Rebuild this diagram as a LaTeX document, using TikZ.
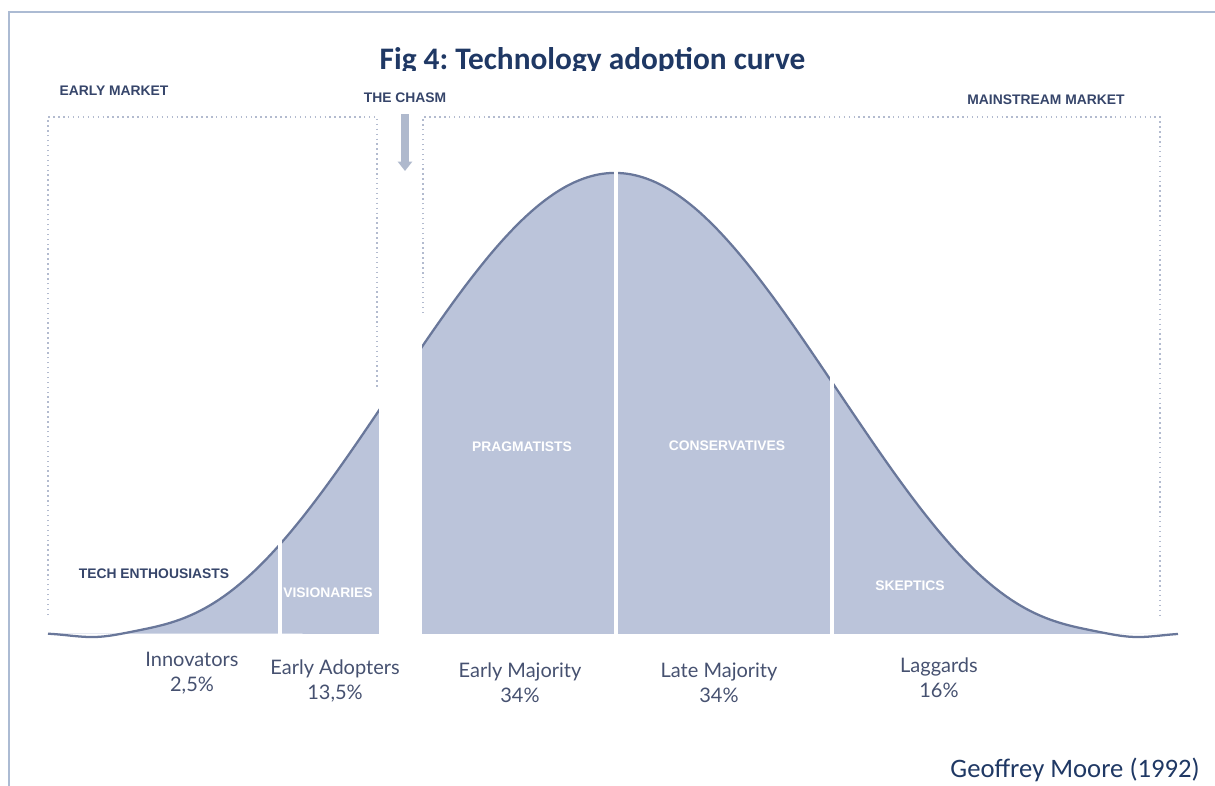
\documentclass[tikz,border=0pt]{standalone}
\usepackage{fontspec}
\usepackage{tikz}
\usetikzlibrary{positioning,calc,arrows.meta}

\newfontfamily\calibfont{Carlito}
\newfontfamily\arialfont{Liberation Sans}
\newfontfamily\latofont{Lato}
\frenchspacing

\definecolor{framecol}{HTML}{ACBBD3}
\definecolor{titlecol}{HTML}{1F3864}
\definecolor{bellfill}{HTML}{BBC4DA}
\definecolor{bellline}{HTML}{69779A}
\definecolor{dotcol}{HTML}{B3BBCF}
\definecolor{capcol}{HTML}{36456A}
\definecolor{groupcol}{HTML}{465170}
\definecolor{arrowcol}{HTML}{AFB9CD}

\tikzset{
  capslabel/.style={font=\arialfont\bfseries\fontsize{10.4}{12}\selectfont, text=capcol, inner sep=0pt},
  innerlabel/.style={capslabel, text=white},
  grouplabel/.style={font=\latofont\fontsize{15}{18.75}\selectfont, text=groupcol, align=center, inner sep=0pt},
  dotbox/.style={draw=dotcol, line width=1.1pt, dash pattern=on 1.1pt off 2.6pt},
  splitline/.style={draw=white, line width=2.4pt},
}

\begin{document}
\begin{tikzpicture}[x=0.75pt,y=-0.75pt,
  declare function={bell(\d)=633-460*exp(max(-9,-(\d/200)^2/2-0.011*(\d/200)^6))+4.5*exp(max(-9,-((abs(\d)-520)/35)^2));}]

\useasboundingbox (0,0) rectangle (1215,786);

\def\bellcurve{plot[domain=-567:563, samples=160, smooth] ({615+\x},{bell(\x)})}

% frame
\draw[framecol, line width=1.9pt] (9,786) -- (9,12) -- (1215,12);

\begin{scope}
  \clip (0,0) rectangle (1215,70.5);
  \node[font=\calibfont\bfseries\fontsize{23.5}{28}\selectfont, text=titlecol, anchor=base, inner sep=0pt] (title) at (592.5,69.5) {Fig 4: Technology adoption curve};
\end{scope}

% market boxes
\coordinate (em1) at (48,615);
\coordinate (em2) at (48,117);
\coordinate (em3) at (377,117);
\coordinate (em4) at (377,388);
\draw[dotbox] (em1) -- (em2) -- (em3) -- (em4);

\coordinate (ms1) at (423,313);
\coordinate (ms2) at (423,117);
\coordinate (ms3) at (1160,117);
\coordinate (ms4) at (1160,616);
\draw[dotbox] (ms1) -- (ms2) -- (ms3) -- (ms4);

\node[capslabel] (early) at (114,91) {EARLY MARKET};
\node[capslabel] (chasm) at (405,98) {THE CHASM};
\node[capslabel] (mainstream) at (1046,100) {MAINSTREAM MARKET};

\coordinate (chasmtop) at (405,114);
\coordinate (chasmtip) at (405,171);
\draw[arrowcol, line width=6.5pt, -{Triangle[width=10.5pt,length=7pt]}] (chasmtop) -- (chasmtip);

% bell curve
\begin{scope}
  \clip (0,0) rectangle (1215,633);
  \fill[bellfill] \bellcurve -- cycle;
\end{scope}
\draw[bellline, line width=1.7pt] \bellcurve;

\draw[splitline] (280,637) -- (280,538);
\draw[splitline] (616,637) -- (616,165);
\draw[splitline] (832,637) -- (832,366);
\fill[white] (378.6,330) rectangle (422.4,642);

\node[capslabel] (tech) at (154,574) {TECH ENTHOUSIASTS};
\node[innerlabel] (vision) at (328,593) {VISIONARIES};
\node[innerlabel] (prag) at (522,447) {PRAGMATISTS};
\node[innerlabel] (cons) at (727,446) {CONSERVATIVES};
\node[innerlabel] (skep) at (910,586) {SKEPTICS};

\node[grouplabel] (innov) at (192,673.5) {Innovators\\2,5\%};
\node[grouplabel] (adopt) at (335,681) {Early Adopters\\13,5\%};
\node[grouplabel] (emaj) at (520,683) {Early Majority\\34\%};
\node[grouplabel] (lmaj) at (719,683) {Late Majority\\34\%};
\node[grouplabel] (lagg) at (939,678) {Laggards\\16\%};

\node[font=\calibfont\fontsize{20}{24}\selectfont, text=titlecol, anchor=base east, inner sep=0pt] (source) at (1200,777) {Geoffrey Moore (1992)};

\end{tikzpicture}
\end{document}
